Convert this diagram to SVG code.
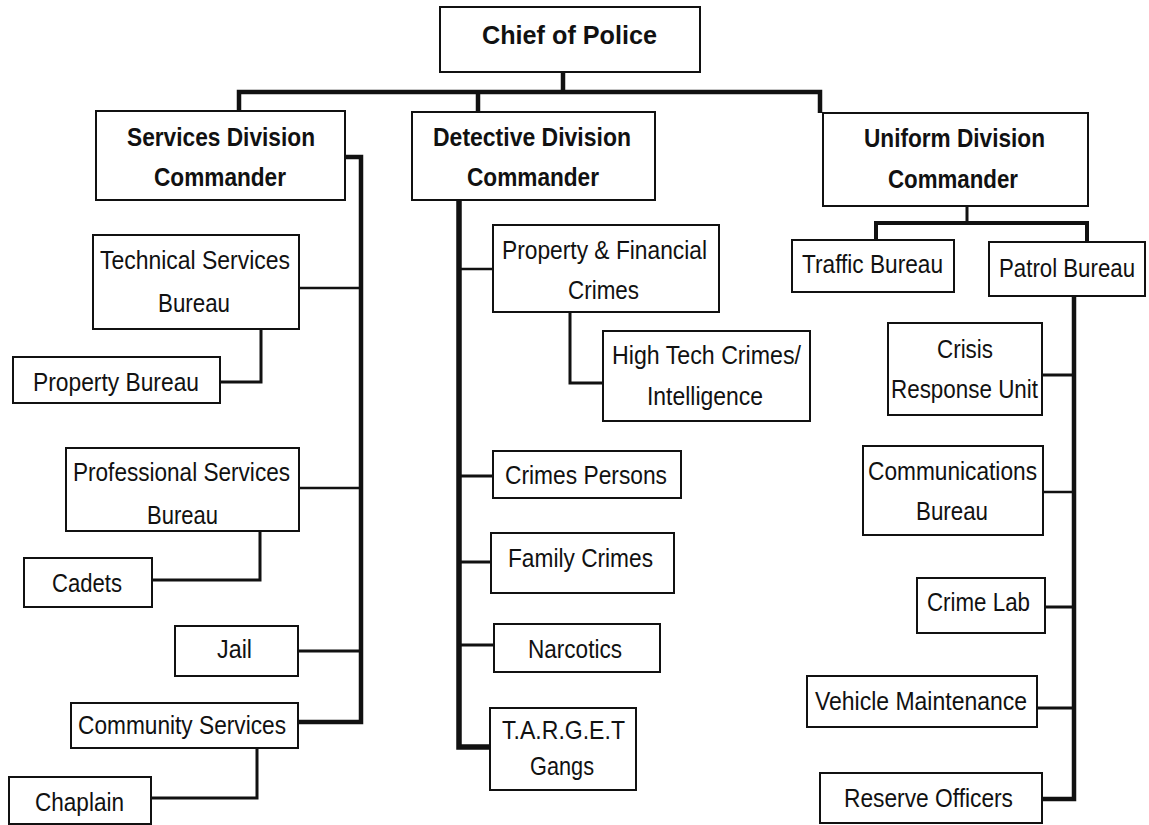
<svg xmlns="http://www.w3.org/2000/svg" width="1149" height="825" viewBox="0 0 1149 825">
<style>
.box{fill:#fff;stroke:#111;stroke-width:2}
.t{font-family:"Liberation Sans",Arial,sans-serif;font-size:26px;fill:#111}
.b{font-family:"Liberation Sans",Arial,sans-serif;font-size:25px;font-weight:bold;fill:#111}
.main{fill:none;stroke:#111;stroke-width:4.5;stroke-linejoin:miter}
.br{fill:none;stroke:#111;stroke-width:3}
.thin{fill:none;stroke:#111;stroke-width:2.5}
</style>
<rect width="1149" height="825" fill="#fff"/>
<g id="connectors">
<polyline class="main" points="563,72 563,92"/>
<polyline class="main" points="239,111 239,92 820,92 820,113"/>
<polyline class="main" points="478,92 478,112"/>
<polyline class="main" points="345,157 361,157 361,722 298,722"/>
<line class="thin" x1="299" y1="288" x2="361" y2="288"/>
<line class="thin" x1="299" y1="488" x2="361" y2="488"/>
<line class="br" x1="298" y1="651" x2="361" y2="651"/>
<polyline class="br" points="261,329 261,382 220,382"/>
<polyline class="br" points="260,531 260,580 152,580"/>
<polyline class="br" points="257,748 257,798 151,798"/>
<polyline class="main" style="stroke-width:5.5" points="459,200 459,747 490,747"/>
<line class="thin" x1="459" y1="269" x2="493" y2="269"/>
<line class="br" x1="459" y1="476" x2="493" y2="476"/>
<line class="br" x1="459" y1="562" x2="491" y2="562"/>
<line class="br" x1="459" y1="645" x2="494" y2="645"/>
<polyline class="br" points="570,312 570,383 603,383"/>
<polyline class="br" points="967,206 967,223"/>
<polyline class="main" style="stroke-width:4" points="876,240 876,223 1087,223 1087,242"/>
<polyline class="main" points="1074,296 1074,799 1042,799"/>
<line class="br" x1="1042" y1="375" x2="1074" y2="375"/>
<line class="thin" x1="1043" y1="492" x2="1074" y2="492"/>
<line class="br" x1="1045" y1="607" x2="1074" y2="607"/>
<line class="br" x1="1037" y1="708" x2="1074" y2="708"/>
</g>
<g id="chief"><rect class="box" x="440" y="7" width="260" height="65"/><text class="b" x="482" y="44" textLength="175" lengthAdjust="spacingAndGlyphs">Chief of Police</text></g>
<g id="services"><rect class="box" x="96" y="111" width="249" height="89"/><text class="b" x="127" y="146" textLength="188" lengthAdjust="spacingAndGlyphs">Services Division</text><text class="b" x="154" y="186" textLength="132" lengthAdjust="spacingAndGlyphs">Commander</text></g>
<g id="detective"><rect class="box" x="412" y="112" width="243" height="88"/><text class="b" x="433" y="146" textLength="198" lengthAdjust="spacingAndGlyphs">Detective Division</text><text class="b" x="467" y="186" textLength="132" lengthAdjust="spacingAndGlyphs">Commander</text></g>
<g id="uniform"><rect class="box" x="823" y="113" width="265" height="93"/><text class="b" x="864" y="147" textLength="181" lengthAdjust="spacingAndGlyphs">Uniform Division</text><text class="b" x="888" y="188" textLength="130" lengthAdjust="spacingAndGlyphs">Commander</text></g>
<g id="traffic"><rect class="box" x="792" y="240" width="162" height="52"/><text class="t" x="802" y="273" textLength="141" lengthAdjust="spacingAndGlyphs">Traffic Bureau</text></g>
<g id="patrol"><rect class="box" x="989" y="242" width="156" height="54"/><text class="t" x="999" y="277" textLength="136" lengthAdjust="spacingAndGlyphs">Patrol Bureau</text></g>
<g id="technical"><rect class="box" x="93" y="235" width="206" height="94"/><text class="t" x="100" y="269" textLength="190" lengthAdjust="spacingAndGlyphs">Technical Services</text><text class="t" x="158" y="312" textLength="72" lengthAdjust="spacingAndGlyphs">Bureau</text></g>
<g id="property"><rect class="box" x="13" y="357" width="207" height="46"/><text class="t" x="33" y="391" textLength="166" lengthAdjust="spacingAndGlyphs">Property Bureau</text></g>
<g id="professional"><rect class="box" x="66" y="448" width="233" height="83"/><text class="t" x="73" y="481" textLength="217" lengthAdjust="spacingAndGlyphs">Professional Services</text><text class="t" x="147" y="524" textLength="71" lengthAdjust="spacingAndGlyphs">Bureau</text></g>
<g id="cadets"><rect class="box" x="24" y="558" width="128" height="49"/><text class="t" x="52" y="592" textLength="70" lengthAdjust="spacingAndGlyphs">Cadets</text></g>
<g id="jail"><rect class="box" x="175" y="626" width="123" height="50"/><text class="t" x="217" y="658" textLength="35" lengthAdjust="spacingAndGlyphs">Jail</text></g>
<g id="community"><rect class="box" x="71" y="703" width="227" height="45"/><text class="t" x="78" y="734" textLength="208" lengthAdjust="spacingAndGlyphs">Community Services</text></g>
<g id="chaplain"><rect class="box" x="9" y="777" width="142" height="47"/><text class="t" x="35" y="811" textLength="89" lengthAdjust="spacingAndGlyphs">Chaplain</text></g>
<g id="propfin"><rect class="box" x="493" y="225" width="226" height="87"/><text class="t" x="502" y="259" textLength="205" lengthAdjust="spacingAndGlyphs">Property &amp; Financial</text><text class="t" x="568" y="299" textLength="71" lengthAdjust="spacingAndGlyphs">Crimes</text></g>
<g id="hightech"><rect class="box" x="603" y="331" width="207" height="90"/><text class="t" x="612" y="364" textLength="189" lengthAdjust="spacingAndGlyphs">High Tech Crimes/</text><text class="t" x="647" y="405" textLength="116" lengthAdjust="spacingAndGlyphs">Intelligence</text></g>
<g id="persons"><rect class="box" x="493" y="451" width="188" height="47"/><text class="t" x="505" y="484" textLength="162" lengthAdjust="spacingAndGlyphs">Crimes Persons</text></g>
<g id="family"><rect class="box" x="491" y="533" width="183" height="60"/><text class="t" x="508" y="567" textLength="145" lengthAdjust="spacingAndGlyphs">Family Crimes</text></g>
<g id="narcotics"><rect class="box" x="494" y="624" width="166" height="48"/><text class="t" x="528" y="658" textLength="94" lengthAdjust="spacingAndGlyphs">Narcotics</text></g>
<g id="target"><rect class="box" x="490" y="708" width="146" height="82"/><text class="t" x="502" y="739" textLength="123" lengthAdjust="spacingAndGlyphs">T.A.R.G.E.T</text><text class="t" x="530" y="775" textLength="64" lengthAdjust="spacingAndGlyphs">Gangs</text></g>
<g id="crisis"><rect class="box" x="888" y="323" width="154" height="92"/><text class="t" x="937" y="358" textLength="56" lengthAdjust="spacingAndGlyphs">Crisis</text><text class="t" x="891" y="398" textLength="147" lengthAdjust="spacingAndGlyphs">Response Unit</text></g>
<g id="communications"><rect class="box" x="863" y="446" width="180" height="89"/><text class="t" x="868" y="480" textLength="169" lengthAdjust="spacingAndGlyphs">Communications</text><text class="t" x="916" y="520" textLength="72" lengthAdjust="spacingAndGlyphs">Bureau</text></g>
<g id="crimelab"><rect class="box" x="917" y="578" width="128" height="55"/><text class="t" x="927" y="611" textLength="103" lengthAdjust="spacingAndGlyphs">Crime Lab</text></g>
<g id="vehicle"><rect class="box" x="807" y="676" width="230" height="51"/><text class="t" x="815" y="710" textLength="212" lengthAdjust="spacingAndGlyphs">Vehicle Maintenance</text></g>
<g id="reserve"><rect class="box" x="820" y="773" width="222" height="50"/><text class="t" x="844" y="807" textLength="169" lengthAdjust="spacingAndGlyphs">Reserve Officers</text></g>
</svg>
